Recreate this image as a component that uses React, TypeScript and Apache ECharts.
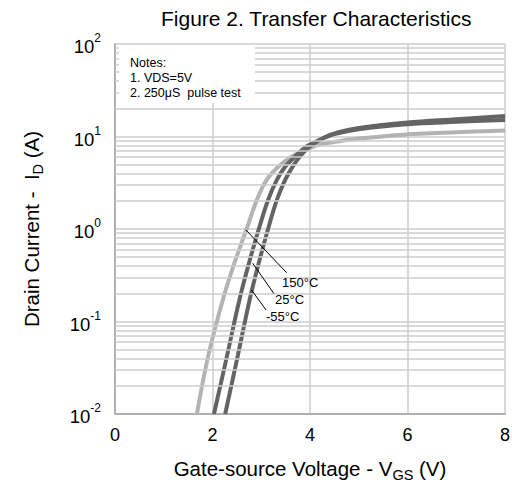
import React, { useEffect, useRef } from "react";
import * as echarts from "echarts";

const xTicks = [0, 2, 4, 6, 8];
const yDecades = [0.01, 0.1, 1, 10, 100];
const minorMultipliers = [2, 3, 4, 5, 6, 7, 8, 9];

const curve150: [number, number][] = [
  [1.68, 0.01], [1.91, 0.042], [2.21, 0.17], [2.45, 0.43], [2.7, 1.0],
  [2.91, 2.06], [3.11, 3.39], [3.35, 4.7], [3.62, 6.05], [3.9, 7.1],
  [4.16, 8.1], [4.6, 8.9], [5.0, 9.5], [5.85, 10.4], [7.0, 11.1], [8.0, 11.6],
];
const curve25: [number, number][] = [
  [2.03, 0.01], [2.3, 0.043], [2.55, 0.17], [2.76, 0.45], [2.95, 1.0],
  [3.14, 2.06], [3.32, 3.39], [3.49, 4.7], [3.69, 6.05], [3.93, 7.8],
  [4.2, 9.2], [4.5, 10.6], [5.0, 12.0], [6.0, 13.6], [7.0, 14.4], [8.0, 15.1],
];
const curveM55: [number, number][] = [
  [2.26, 0.01], [2.52, 0.043], [2.76, 0.17], [2.96, 0.45], [3.14, 1.0],
  [3.32, 2.06], [3.49, 3.39], [3.64, 4.7], [3.79, 6.05], [4.0, 7.8],
  [4.3, 9.8], [4.6, 11.2], [5.0, 12.4], [6.0, 14.2], [7.0, 15.4], [8.0, 16.7],
];

const seriesNames = ["150°C", "25°C", "-55°C"];
const notes = ["Notes:", "1. VDS=5V", "2. 250μS  pulse test"];

// leader lines (data coordinates) from curve to label
const leaders: [[number, number], [number, number]][] = [
  [[2.687, 0.975], [3.52, 0.337]],
  [[2.825, 0.426], [3.26, 0.2]],
  [[2.8, 0.219], [3.1, 0.133]],
];

const FONT = "'Liberation Sans', Arial, Helvetica, sans-serif";
const LIGHT = "#b3b3b3";
const DARK = "#646464";
const GRID = "#cdcdcd";

export default function App() {
  const ref = useRef<HTMLDivElement>(null);
  useEffect(() => {
    if (!ref.current) return;
    const chart = echarts.init(ref.current, undefined, { renderer: "svg" });

    const minorLines: { yAxis: number }[] = [];
    yDecades.slice(0, -1).forEach((d) =>
      minorMultipliers.forEach((m) => minorLines.push({ yAxis: +(d * m).toPrecision(3) }))
    );

    const expOf = (v: number) => Math.round(Math.log10(v));

    const curveSeries = (name: string, data: [number, number][], color: string) => ({
      type: "line",
      name,
      data,
      showSymbol: false,
      smooth: 0.35,
      z: 3,
      lineStyle: { color, width: 4 },
    });

    chart.setOption({
      animation: false,
      backgroundColor: "#fff",
      title: {
        text: "Figure 2. Transfer Characteristics",
        left: 156,
        top: 3,
        textStyle: { fontFamily: FONT, fontSize: 21, fontWeight: "normal", color: "#000" },
      },
      grid: {
        left: 115,
        right: 7,
        top: 44,
        bottom: 69,
        containLabel: false,
        outerBoundsMode: "none",
      },
      xAxis: {
        type: "value",
        min: 0,
        max: 8,
        interval: 2,
        axisLine: { show: true, onZero: false, lineStyle: { color: "#b0b0b0", width: 2 } },
        axisTick: { show: false },
        axisLabel: {
          color: "#000",
          fontFamily: FONT,
          fontSize: 18,
          margin: 12,
          formatter: (v: number) => (xTicks.includes(v) ? String(v) : ""),
        },
        splitLine: { show: true, lineStyle: { color: GRID, width: 1.5 } },
        name: "{a|Gate-source Voltage - V}{s|GS}{a| (V)}",
        nameLocation: "middle",
        nameGap: 44,
        nameTextStyle: {
          color: "#000",
          fontFamily: FONT,
          rich: {
            a: { fontSize: 20.5, fontFamily: FONT, color: "#000", lineHeight: 24, verticalAlign: "top" },
            s: { fontSize: 14.5, fontFamily: FONT, color: "#000", lineHeight: 24, verticalAlign: "bottom" },
          },
        },
      },
      yAxis: {
        type: "log",
        logBase: 10,
        min: 0.01,
        max: 100,
        axisLine: { show: true, lineStyle: { color: "#b0b0b0", width: 2 } },
        axisTick: { show: false },
        axisLabel: {
          margin: 14,
          formatter: (v: number) => `{b|10}{p|${expOf(v)}}`,
          rich: {
            b: { fontSize: 18.5, fontFamily: FONT, color: "#000", lineHeight: 24, verticalAlign: "bottom" },
            p: { fontSize: 12, fontFamily: FONT, color: "#000", lineHeight: 12, verticalAlign: "top" },
          },
        },
        splitLine: { show: true, lineStyle: { color: GRID, width: 1.5 } },
        name: "{a|Drain Current -  I}{s|D}{a| (A)}",
        nameLocation: "middle",
        nameGap: 70,
        nameTextStyle: {
          color: "#000",
          fontFamily: FONT,
          rich: {
            a: { fontSize: 20.5, fontFamily: FONT, color: "#000", lineHeight: 24, verticalAlign: "top" },
            s: { fontSize: 14.5, fontFamily: FONT, color: "#000", lineHeight: 24, verticalAlign: "bottom" },
          },
        },
      },
      series: [
        {
          type: "line",
          name: "minor-grid",
          data: [],
          z: 0,
          silent: true,
          markLine: {
            silent: true,
            symbol: ["none", "none"],
            label: { show: false },
            lineStyle: { color: GRID, width: 1.5, type: "solid" },
            data: minorLines,
          },
        },
        {
          ...curveSeries(seriesNames[0], curve150, LIGHT),
          markLine: {
            silent: true,
            symbol: ["none", "none"],
            label: { show: false },
            lineStyle: { color: "#000", width: 1, type: "solid" },
            data: leaders.map(([a, b]) => [{ coord: a }, { coord: b }]),
          },
        },
        curveSeries(seriesNames[1], curve25, DARK),
        curveSeries(seriesNames[2], curveM55, DARK),
      ],
      graphic: [
        {
          type: "rect",
          z: 100,
          shape: { x: 119, y: 45, width: 136, height: 58 },
          style: { fill: "#fff" },
        },
        ...notes.map((t, i) => ({
          type: "text",
          z: 101,
          x: 130,
          y: [62.5, 78, 92.5][i],
          style: { text: t, fontSize: 12.5, fontFamily: FONT, fill: "#000", verticalAlign: "middle" },
        })),
        ...seriesNames.map((t, i) => ({
          type: "text",
          z: 101,
          x: [282, 275, 266][i],
          y: [282, 299, 316][i],
          style: { text: t, fontSize: 13, fontFamily: FONT, fill: "#000", verticalAlign: "middle" },
        })),
      ],
    });
    return () => chart.dispose();
  }, []);
  return (
    <div
      ref={ref}
      style={{ position: "fixed", left: 0, top: 0, width: 512, height: 483, background: "#fff" }}
    />
  );
}
